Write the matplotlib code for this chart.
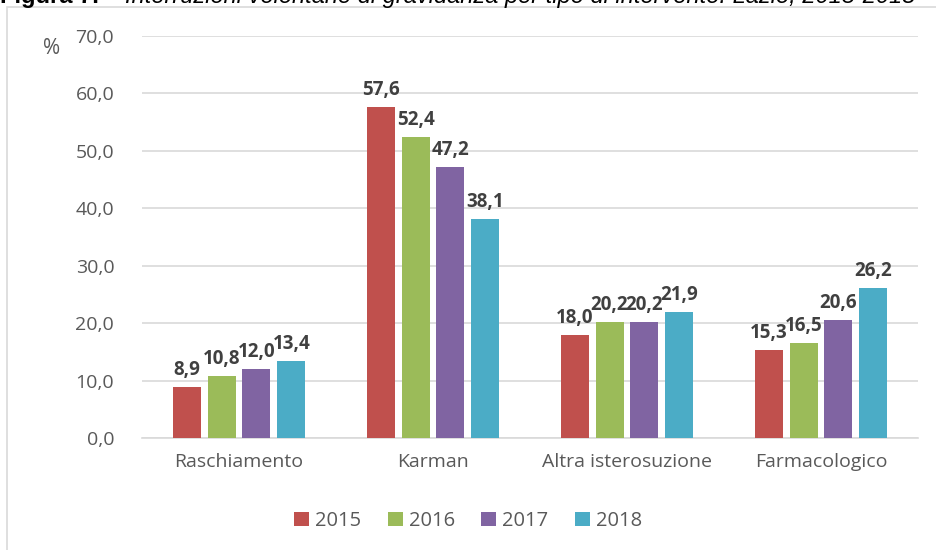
import numpy as np
import matplotlib
matplotlib.use("Agg")
import matplotlib.pyplot as plt
from matplotlib.patches import Rectangle

categories = ["Raschiamento", "Karman", "Altra isterosuzione", "Farmacologico"]
years = ["2015", "2016", "2017", "2018"]
values = {
    "2015": [8.9, 57.6, 18.0, 15.3],
    "2016": [10.8, 52.4, 20.2, 16.5],
    "2017": [12.0, 47.2, 20.2, 20.6],
    "2018": [13.4, 38.1, 21.9, 26.2],
}
colors = ["#C0504D", "#9BBB59", "#8064A2", "#4BACC6"]
yticks = [0, 10, 20, 30, 40, 50, 60, 70]

plt.rcParams["font.family"] = ["Open Sans", "DejaVu Sans"]

fig = plt.figure(figsize=(9.36, 5.5), dpi=100)
ax = fig.add_axes([142 / 936, 1 - 438 / 550, 776 / 936, 402 / 550])

# chart border
fig.patches.append(Rectangle((7 / 936, -0.1), 1.2, 1 - 7 / 550 + 0.1, transform=fig.transFigure,
                             fill=False, edgecolor="#d9d9d9", linewidth=1.2))

x = np.arange(len(categories))
width = 0.144
pitch = 0.18
for i, yr in enumerate(years):
    pos = x + (i - 1.5) * pitch
    bars = ax.bar(pos, values[yr], width, color=colors[i], label=yr, zorder=3)
    for b, v in zip(bars, values[yr]):
        ax.text(b.get_x() + b.get_width() / 2, v + 1.2, f"{v:.1f}".replace(".", ","),
                ha="center", va="bottom", fontsize=13.5, fontweight="bold", color="#404040")

ax.set_xlim(-0.5, 3.5)
ax.set_ylim(0, 70)
ax.set_yticks(yticks)
ax.set_yticklabels([f"{t:.1f}".replace(".", ",") for t in yticks])
ax.set_xticks(x)
ax.set_xticklabels(categories)
ax.tick_params(axis="both", length=0, labelsize=14, colors="#595959")
ax.tick_params(axis="y", pad=20)
ax.tick_params(axis="x", pad=11)
ax.grid(axis="y", color="#d9d9d9", linewidth=1.2, zorder=0)
for s in ["top", "right", "left"]:
    ax.spines[s].set_visible(False)
ax.spines["bottom"].set_color("#d9d9d9")
ax.spines["bottom"].set_linewidth(1.2)

fig.text(52 / 936, 1 - 48 / 550, "%", ha="center", va="center", fontsize=15, color="#595959")

fig.legend(loc="center", bbox_to_anchor=(0.5, 1 - 521 / 550), ncol=4, frameon=False,
           fontsize=14.5, handlelength=0.75, handleheight=0.75, handletextpad=0.3,
           columnspacing=1.3, labelcolor="#595959")

# title, clipped at the top like the source image
t1 = fig.text(0.0, 1 - 3 / 550, "Figura 7. \u2013 ", ha="left", va="baseline", fontsize=17,
              fontweight="bold", family="Liberation Sans")
fig.canvas.draw()
bb = t1.get_window_extent(renderer=fig.canvas.get_renderer())
fig.text(bb.x1 / 936, 1 - 3 / 550,
         "Interruzioni volontarie di gravidanza per tipo di intervento. Lazio, 2015-2018",
         ha="left", va="baseline", fontsize=17, style="italic", family="Liberation Sans")

fig.savefig("out.png", dpi=100)
